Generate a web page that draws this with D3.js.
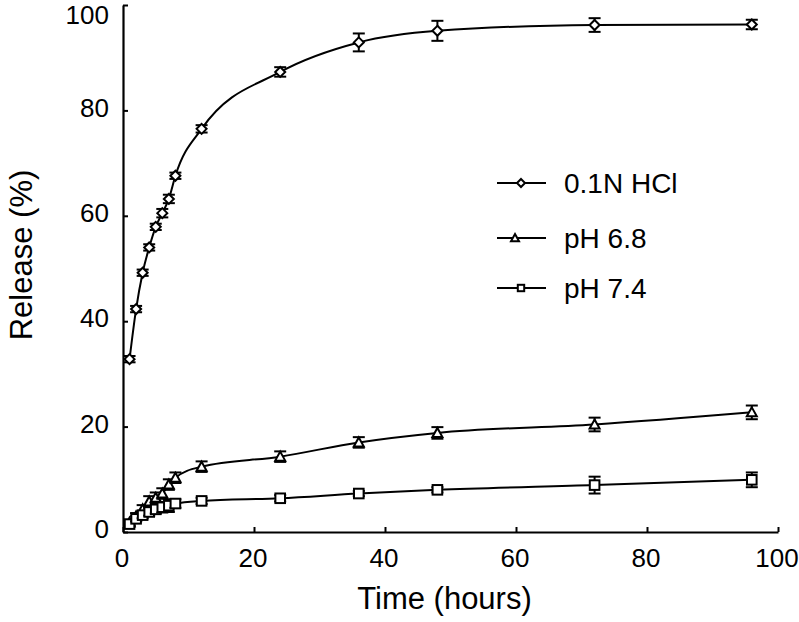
<!DOCTYPE html>
<html>
<head>
<meta charset="utf-8">
<script src="https://cdn.jsdelivr.net/npm/d3@7"></script>
<style>
  body { margin: 0; background: #fff; }
  text { font-family: "Liberation Sans", Arial, sans-serif; fill: #000; }
</style>
</head>
<body>
<svg id="chart" width="799" height="622"></svg>
<script>
// time points (hours)
var hours = [1, 2, 3, 4, 5, 6, 7, 8, 12, 24, 36, 48, 72, 96];

// release (%) per medium
var hclRelease = [32.8, 42.3, 49.2, 54.0, 57.9, 60.5, 63.2, 67.6, 76.5, 87.3, 92.9, 95.1, 96.2, 96.3];
var ph68Release = [1.8, 3.0, 4.3, 5.8, 6.5, 7.3, 9.0, 10.3, 12.4, 14.3, 17.0, 18.8, 20.4, 22.7];
var ph74Release = [1.5, 2.5, 3.2, 3.8, 4.3, 4.7, 5.0, 5.4, 5.9, 6.4, 7.3, 8.0, 8.9, 9.9];

// error (+/-)
var hclErr = [0.6, 0.6, 0.6, 0.6, 0.6, 0.8, 0.8, 0.6, 0.7, 0.9, 1.7, 1.9, 1.3, 0.9];
var ph68Err = [0.5, 0.6, 0.8, 1.0, 1.0, 1.0, 1.0, 1.0, 1.0, 1.0, 1.0, 1.1, 1.3, 1.3];
var ph74Err = [0.4, 0.5, 0.6, 0.7, 0.8, 1.0, 1.2, 0.8, 0.6, 0.6, 0.5, 0.5, 1.6, 1.4];

var seriesNames = ["0.1N HCl", "pH 6.8", "pH 7.4"];
var xTicks = [0, 20, 40, 60, 80, 100];
var yTicks = [0, 20, 40, 60, 80, 100];

var svg = d3.select("#chart"),
  margin = {top: 5, right: 21, bottom: 90, left: 123},
  width = +svg.attr("width") - margin.left - margin.right,
  height = +svg.attr("height") - margin.top - margin.bottom,
  g = svg.append("g").attr("transform", "translate(" + margin.left + "," + margin.top + ")");

var x = d3.scaleLinear().domain([0, 100]).range([0, width]);
var y = d3.scaleLinear().domain([0, 100]).range([height, 0]);

// axes, ticks pointing inward
var xAxis = g.append("g")
  .attr("transform", "translate(0," + height + ")")
  .call(d3.axisTop(x).tickValues(xTicks).tickSize(5).tickSizeOuter(0).tickFormat(""));
var yAxis = g.append("g")
  .call(d3.axisRight(y).tickValues(yTicks).tickSize(5).tickSizeOuter(0).tickFormat(""));
[xAxis, yAxis].forEach(function (a) {
  a.select(".domain").attr("stroke", "#000").attr("stroke-width", 2.2);
  a.selectAll(".tick line").attr("stroke", "#000").attr("stroke-width", 2);
});

g.selectAll(".xlab")
  .data(xTicks)
  .enter().append("text")
  .attr("class", "xlab")
  .attr("x", function (d) { return x(d) - 1; })
  .attr("y", height + 35)
  .attr("text-anchor", "middle")
  .style("font-size", "26px")
  .text(function (d) { return d; });

// top label sits just inside the picture
g.selectAll(".ylab")
  .data(yTicks)
  .enter().append("text")
  .attr("class", "ylab")
  .attr("x", -14)
  .attr("y", function (d) { return Math.max(y(d) - 3, 10); })
  .attr("dy", "0.35em")
  .attr("text-anchor", "end")
  .style("font-size", "26px")
  .text(function (d) { return d; });

g.append("text")
  .attr("x", x(50) - 6)
  .attr("y", height + 77)
  .attr("text-anchor", "middle")
  .style("font-size", "31px")
  .text("Time (hours)");

g.append("text")
  .attr("transform", "translate(" + (-margin.left + 32) + "," + 250 + ") rotate(-90)")
  .attr("text-anchor", "middle")
  .style("font-size", "31px")
  .text("Release (%)");

var series = [
  {name: seriesNames[0], values: hclRelease, err: hclErr, shape: "diamond"},
  {name: seriesNames[1], values: ph68Release, err: ph68Err, shape: "triangle"},
  {name: seriesNames[2], values: ph74Release, err: ph74Err, shape: "square"}
];

var line = d3.line()
  .x(function (d) { return x(d.t); })
  .y(function (d) { return y(d.v); })
  .curve(d3.curveMonotoneX);

function marker(sel, shape, size) {
  if (shape === "diamond") {
    sel.append("path").attr("d", "M0," + (-size) + "L" + size + ",0L0," + size + "L" + (-size) + ",0Z");
  } else if (shape === "triangle") {
    sel.append("path").attr("d", "M0," + (-size) + "L" + size + "," + (size * 0.8) + "L" + (-size) + "," + (size * 0.8) + "Z");
  } else {
    var s = size * 0.8;
    sel.append("rect").attr("x", -s).attr("y", -s).attr("width", 2 * s).attr("height", 2 * s);
  }
  sel.selectAll("path, rect")
    .attr("fill", "#fff")
    .attr("stroke", "#000")
    .attr("stroke-width", 2);
}

series.forEach(function (s) {
  var pts = hours.map(function (t, i) { return {t: t, v: s.values[i], e: s.err[i]}; });

  g.append("path")
    .datum(pts)
    .attr("fill", "none")
    .attr("stroke", "#000")
    .attr("stroke-width", 2)
    .attr("d", line);

  var pt = g.selectAll(".pt-" + s.shape)
    .data(pts)
    .enter().append("g")
    .attr("class", "pt-" + s.shape)
    .attr("transform", function (d) { return "translate(" + x(d.t) + "," + y(d.v) + ")"; });

  // error bars
  pt.append("line")
    .attr("x1", 0).attr("x2", 0)
    .attr("y1", function (d) { return y(d.v + d.e) - y(d.v); })
    .attr("y2", function (d) { return y(d.v - d.e) - y(d.v); })
    .attr("stroke", "#000").attr("stroke-width", 2);
  [1, -1].forEach(function (sign) {
    pt.append("line")
      .attr("x1", -6).attr("x2", 6)
      .attr("y1", function (d) { return y(d.v + sign * d.e) - y(d.v); })
      .attr("y2", function (d) { return y(d.v + sign * d.e) - y(d.v); })
      .attr("stroke", "#000").attr("stroke-width", 2);
  });

  pt.each(function () { marker(d3.select(this), s.shape, s.shape === "square" ? 6 : 5); });
});

// legend
var legend = svg.append("g").attr("transform", "translate(497,183)");
series.forEach(function (s, i) {
  var row = legend.append("g").attr("transform", "translate(0," + [0, 55, 105][i] + ")");
  row.append("line")
    .attr("x1", 0).attr("x2", 49)
    .attr("y1", 0).attr("y2", 0)
    .attr("stroke", "#000").attr("stroke-width", 2);
  var m = row.append("g").attr("transform", "translate(" + (i === 1 ? 18 : 24) + ",0)");
  marker(m, s.shape, 4);
  row.append("text")
    .attr("x", 67)
    .attr("y", 0)
    .attr("dy", "0.36em")
    .style("font-size", "28px")
    .text(s.name);
});
</script>
</body>
</html>
